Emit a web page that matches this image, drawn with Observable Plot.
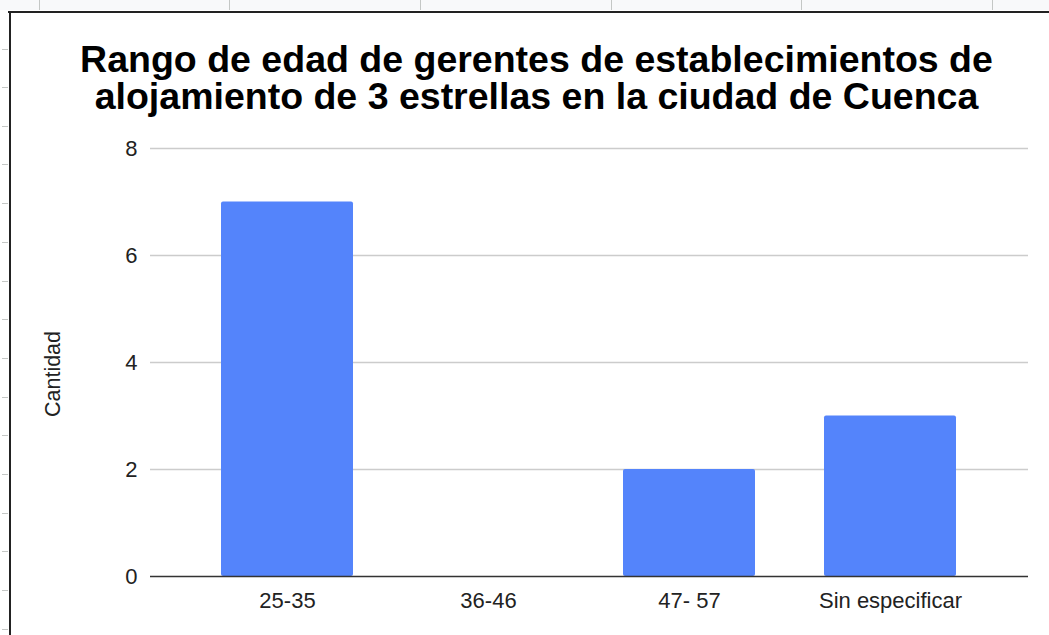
<!DOCTYPE html>
<html>
<head>
<meta charset="utf-8">
<script src="https://cdn.jsdelivr.net/npm/d3@7"></script>
<script src="https://cdn.jsdelivr.net/npm/@observablehq/plot@0.6"></script>
<style>
  html, body { margin: 0; padding: 0; background: #fff; }
  body { width: 1049px; height: 635px; position: relative; overflow: hidden; font-family: "Liberation Sans", Arial, sans-serif; }
  #chart { position: absolute; left: 0; top: 0; }
  .title { position: absolute; left: 0; width: 1073px; height: 36px; text-align: center; font-weight: bold; font-size: 37.5px; line-height: 36px; color: #000; white-space: nowrap; }
  #title1 { top: 41px; }
  #title2 { top: 77.5px; }
  #ylabel { position: absolute; left: 54px; top: 374px; transform: translate(-50%, -50%) rotate(-90deg); font-size: 21.5px; color: #222; white-space: nowrap; line-height: 1; }
  .topbar { position: absolute; left: 0; top: 0; width: 1049px; height: 10px; background: #f8f9fa; }
  .vmark { position: absolute; top: 0; width: 1px; height: 10px; background: #c4c7c5; }
  .hmark { position: absolute; left: 2px; width: 6px; height: 1px; background: #c4c7c5; }
  .hline { position: absolute; left: 8px; top: 11px; width: 1041px; height: 2px; background: #222; }
  .vline { position: absolute; left: 9px; top: 11px; width: 2px; height: 624px; background: #222; }
</style>
</head>
<body>
<div id="chart"></div>
<div class="topbar"></div>
<div id="marks"></div>
<div class="hline"></div>
<div class="vline"></div>
<div class="title" id="title1">Rango de edad de gerentes de establecimientos de</div>
<div class="title" id="title2">alojamiento de 3 estrellas en la ciudad de Cuenca</div>
<div id="ylabel">Cantidad</div>
<script>
const categories = ["25-35", "36-46", "47- 57", "Sin especificar"];
const values = [7, 0, 2, 3];
const yTicks = [0, 2, 4, 6, 8];

const data = categories.map((c, i) => ({ cat: c, value: values[i] }));

const chart = Plot.plot({
  width: 1049,
  height: 635,
  marginTop: 148,
  marginBottom: 59,
  marginLeft: 150,
  marginRight: 21,
  style: { fontFamily: "'Liberation Sans', Arial, sans-serif", fontSize: "22px", color: "#222", background: "transparent" },
  x: { domain: categories, range: [185, 992], paddingInner: 0.345, paddingOuter: 0.1725, label: null },
  y: { domain: [0, 8], ticks: yTicks, label: null },
  marks: [
    Plot.ruleY(yTicks.filter(t => t > 0), { stroke: "#cccccc", strokeWidth: 1.5 }),
    Plot.barY(data, { x: "cat", y: "value", fill: "#5484fb", rx: 2 }),
    Plot.ruleY([0], { stroke: "#333333", strokeWidth: 1.5 }),
    Plot.axisY({ ticks: yTicks, tickSize: 0, tickPadding: 13, label: null, fontSize: 22 }),
    Plot.axisX({ tickSize: 0, tickPadding: 16, label: null, fontSize: 22 })
  ]
});
document.getElementById("chart").appendChild(chart);

// spreadsheet background marks
const marks = document.getElementById("marks");
[39, 229, 420, 611, 801, 992].forEach(x => {
  const d = document.createElement("div"); d.className = "vmark"; d.style.left = x + "px"; marks.appendChild(d);
});
[49, 87, 126, 164, 203, 242, 281, 319, 358, 397, 435, 474, 513, 551, 590, 629].forEach(y => {
  const d = document.createElement("div"); d.className = "hmark"; d.style.top = y + "px"; marks.appendChild(d);
});
</script>
</body>
</html>
